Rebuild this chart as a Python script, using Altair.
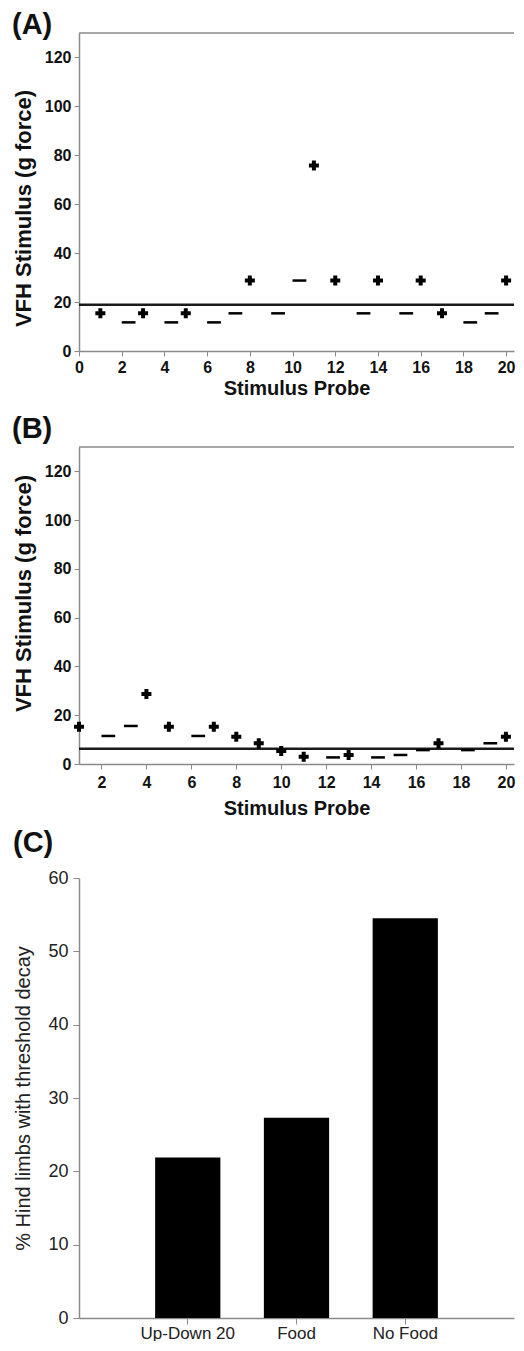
import altair as alt
import pandas as pd

# ---- data ----
probe = list(range(1, 21))

a_values = [15.4, 11.7, 15.4, 11.7, 15.4, 11.7, 15.4, 28.8, 15.4, 28.8,
            75.8, 28.8, 15.4, 28.8, 15.4, 28.8, 15.4, 11.7, 15.4, 28.8]
a_response = ["+", "-", "+", "-", "+", "-", "-", "+", "-", "-",
              "+", "+", "-", "+", "-", "+", "+", "-", "-", "+"]
a_threshold = [18.9]

b_values = [15.3, 11.5, 15.6, 28.7, 15.3, 11.5, 15.3, 11.2, 8.5, 5.3,
            3.0, 2.7, 3.7, 2.7, 3.7, 5.7, 8.5, 5.7, 8.5, 11.2]
b_response = ["+", "-", "-", "+", "+", "-", "+", "+", "+", "+",
              "+", "-", "+", "-", "-", "-", "+", "-", "-", "+"]
b_threshold = [6.3]

groups = ["Up-Down 20", "Food", "No Food"]
percent = [21.9, 27.3, 54.5]

y_ticks_ab = [0, 20, 40, 60, 80, 100, 120]
y_ticks_c = [0, 10, 20, 30, 40, 50, 60]

FONT = "Liberation Sans"
AXIS_GRAY = "#8a8a8a"
Y_EXTENT = 38
PANEL_W = 435


def probe_panel(values, response, threshold, label, xdomain, xticks, width, height,
                title_offset, x_label_pad, x_title_pad, x_title, y_title_y):
    df = pd.DataFrame({"probe": probe, "vfh": values, "resp": response})
    x = alt.X(
        "probe:Q",
        scale=alt.Scale(domain=xdomain, nice=False, zero=False),
        axis=alt.Axis(
            values=xticks, title=x_title, grid=False,
            domainColor=AXIS_GRAY, domainWidth=1.5, tickColor=AXIS_GRAY, tickSize=5,
            labelFont=FONT, labelFontSize=16, labelFontWeight="bold", labelColor="#111",
            labelPadding=x_label_pad, titleFont=FONT, titleFontSize=20,
            titleFontWeight="bold", titleColor="#111", titlePadding=x_title_pad,
            titleLineHeight=6, labelFlush=False,
        ),
    )
    y = alt.Y(
        "vfh:Q",
        scale=alt.Scale(domain=[0, 130], nice=False),
        axis=alt.Axis(
            values=y_ticks_ab, title="VFH Stimulus (g force)", grid=False,
            domainColor=AXIS_GRAY, domainWidth=1.5, tickColor=AXIS_GRAY, tickSize=5,
            labelFont=FONT, labelFontSize=16, labelFontWeight="bold", labelColor="#111",
            labelPadding=3, titleFont=FONT, titleFontSize=22, titleFontWeight="bold",
            titleColor="#111", titlePadding=6, titleY=y_title_y, labelFlush=False,
            minExtent=Y_EXTENT, maxExtent=Y_EXTENT,
        ),
    )
    base = alt.Chart(df)
    plus = base.transform_filter(alt.datum.resp == "+").mark_point(
        shape="cross", filled=True, size=100, color="black", opacity=1
    ).encode(x=x, y=y)
    minus = base.transform_filter(alt.datum.resp == "-").mark_point(
        shape="M0,0H2", filled=False, size=190, stroke="black", strokeWidth=2.5, opacity=1
    ).encode(x=x, y=y)
    thr = alt.Chart(pd.DataFrame({"vfh": threshold})).mark_rule(
        color="#1a1a1a", strokeWidth=2.5
    ).encode(y=y)
    top = alt.Chart(pd.DataFrame({"k": [0]})).mark_rule(
        color=AXIS_GRAY, strokeWidth=1.5
    ).encode(y=alt.value(0))
    return alt.layer(top, thr, minus, plus).properties(
        width=width, height=height,
        title=alt.TitleParams(label, anchor="start", font=FONT, fontSize=29,
                              fontWeight="bold", color="#111", offset=title_offset),
    )


panel_a = probe_panel(a_values, a_response, a_threshold, "(A)",
                      [0, 20.37], list(range(0, 21, 2)), PANEL_W, 318,
                      title_offset=-8, x_label_pad=3, x_title_pad=3,
                      x_title=["Stimulus Probe", " "], y_title_y=175)
panel_b = probe_panel(b_values, b_response, b_threshold, "(B)",
                      [1, 20.36], list(range(2, 21, 2)), PANEL_W, 317,
                      title_offset=2, x_label_pad=5, x_title_pad=8,
                      x_title="Stimulus Probe", y_title_y=146)

dfc = pd.DataFrame({"group": groups, "pct": percent})
panel_c = alt.Chart(dfc).mark_bar(color="black").encode(
    x=alt.X(
        "group:N", sort=groups,
        scale=alt.Scale(paddingInner=0.4, paddingOuter=0.7),
        axis=alt.Axis(
            title=None, labelAngle=0, domainColor=AXIS_GRAY, domainWidth=1.5,
            tickColor=AXIS_GRAY, tickSize=6, labelFont=FONT, labelFontSize=17,
            labelColor="#222", labelPadding=1,
        ),
    ),
    y=alt.Y(
        "pct:Q",
        scale=alt.Scale(domain=[0, 60], nice=False),
        axis=alt.Axis(
            values=y_ticks_c, title="% Hind limbs with threshold decay", grid=False,
            domainColor=AXIS_GRAY, domainWidth=1.5, tickColor=AXIS_GRAY, tickSize=6,
            labelFont=FONT, labelFontSize=18, labelColor="#222", labelPadding=5,
            titleFont=FONT, titleFontSize=20, titleFontWeight="normal",
            titleColor="#222", titlePadding=8,
            minExtent=Y_EXTENT, maxExtent=Y_EXTENT,
        ),
    ),
).properties(
    width=PANEL_W, height=440,
    title=alt.TitleParams("(C)", anchor="start", font=FONT, fontSize=29,
                          fontWeight="bold", color="#111", offset=11),
)

chart = alt.vconcat(panel_a, panel_b, panel_c, spacing=11).properties(
    padding={"left": 3, "top": 3, "right": 0, "bottom": 0}
).configure_view(stroke=None)

chart.save("out.html", embed_options={"renderer": "svg", "actions": False})
